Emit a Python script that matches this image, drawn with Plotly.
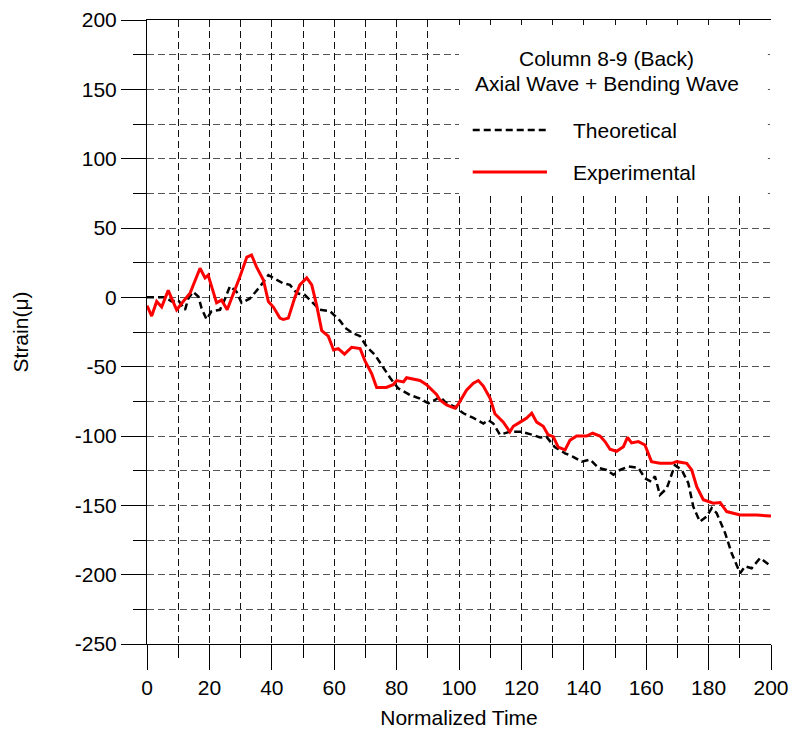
import plotly.graph_objects as go

# ---- data ----
th_t = [0, 5.8, 7.9, 10, 12.2, 13.2, 14.8, 16.5, 17.5, 19.1, 20.7, 23.4, 25, 26.6, 28.7, 30.3, 32.9,
        36.2, 38.9, 41.5, 43.7, 45.8, 48, 50.6, 53.3, 55.4, 58.7, 61.9, 63.5, 66.1, 68.3, 70.4, 73.1,
        75.2, 77.9, 80.5, 84.3, 87.5, 90.2, 92.3, 93.9, 96, 98.7, 101.4, 104.6, 107.8, 109.4, 111,
        113.1, 116.3, 120.1, 123.3, 126, 128, 130.7, 134, 136.6, 139.3, 142, 144.7, 147.3, 149.5,
        151.6, 154.3, 157.5, 159.6, 161.7, 162.8, 164.4, 166.6, 168.2, 169.2, 171.4, 173.5, 175.1,
        177.2, 179.4, 181, 182.6, 185.3, 187.4, 189, 190.1, 191.7, 193.8, 196.5, 198, 200]
th_y = [0, 0, -3, -2, -9, -1, 4, 0.4, -8, -16, -10, -9, -1, 8, 4, -4, -1,
        7.6, 16, 12.5, 10, 9, 3, 1.7, -4, -9, -10, -17, -22, -26, -28, -35.6, -41.6,
        -49, -58, -65.6, -70.4, -73, -76.4, -74, -71.7, -76.4, -79, -83.6, -87, -91, -88.5, -91,
        -99, -97, -97, -99, -101, -100.5, -108, -112.5, -115, -118.5, -117, -123, -124.5, -128,
        -124.5, -122, -123, -130.5, -133, -129, -142.5, -137.7, -128, -121, -124.5, -134, -151,
        -161.8, -158, -152, -155.7, -170, -184.6, -193, -199, -194, -195.4, -188, -190.6, -194]

exp_t = [0, 1.5, 3.1, 4.7, 6.8, 9.5, 11.6, 13.8, 17, 18.6, 19.6, 22.3, 23.9, 25.7, 29.8, 32, 33.5,
         35.1, 37.3, 38.9, 40.5, 42.6, 43.7, 45.3, 47.4, 49, 51.2, 52.8, 54.4, 56, 58.1, 59.8, 61.3,
         63.3, 65.6, 68.3, 69.9, 72, 73.6, 76.7, 78.9, 80, 82.2, 83.2, 87.5, 89.6, 92.8, 93.9, 96,
         98.7, 99.8, 102.4, 104.6, 106.2, 107.8, 110, 111.5, 114.2, 116.3, 117.4, 119.6, 121.7, 123.3,
         124.9, 127, 128.5, 130.2, 131.8, 134, 135.6, 137.7, 140.9, 142.8, 145.2, 146.8, 148.4, 150.5,
         152.7, 154, 155.3, 157.5, 159.6, 161.7, 164.4, 168.2, 169.8, 173, 174.6, 176.2, 178.3, 181.5,
         183.7, 185.8, 190.1, 195.4, 200]
exp_y = [-6, -13.5, -3, -7, 5, -9, -3, 3, 21, 14, 16, -4, -2, -9, 15, 29, 30.5,
         22, 12.5, -3, -7, -15, -16, -15, 0, 9, 14, 9, -6, -24, -28, -38, -37,
         -41, -36, -37, -46, -55, -65, -65, -63, -60, -61, -58, -60, -63, -70, -74, -77.6,
         -80, -77, -67, -62, -60, -64, -73, -84, -90, -97, -93, -90, -87, -83.6,
         -90, -93, -99, -100.5, -108, -110, -103, -100, -100, -98, -100, -104, -109.6, -111,
         -107.7, -101, -105, -104, -106.5, -118.5, -119.7, -119.7, -118.5, -119.7, -124.5, -136.5, -146, -148.5,
         -148, -154.5, -157, -157, -157.7]

y_ticks = [200, 150, 100, 50, 0, -50, -100, -150, -200, -250]
y_ticktext = ["200", "150", "100", "50", "0", "-50", "-100", "-150", "-200", "-250"]

legend_title = ["Column 8-9 (Back)", "Axial Wave + Bending Wave"]
series_names = ["Theoretical", "Experimental"]

FONT = "Liberation Sans, Arial, sans-serif"
FS = 21

fig = go.Figure()
fig.add_trace(go.Scatter(x=th_t, y=th_y, mode="lines", name=series_names[0],
                         line=dict(color="black", width=2.5, dash="7px,4px"), showlegend=False))
fig.add_trace(go.Scatter(x=exp_t, y=exp_y, mode="lines", name=series_names[1],
                         line=dict(color="#ff0000", width=3), showlegend=False))

grid_dash = "7px,4px"
fig.update_xaxes(range=[0, 200], tickmode="linear", tick0=0, dtick=20,
                 ticks="outside", ticklen=25, tickwidth=1, tickcolor="black",
                 showline=True, linecolor="black", linewidth=1, mirror=True,
                 showgrid=True, gridcolor="#111", griddash=grid_dash, gridwidth=1,
                 zeroline=False,
                 minor=dict(dtick=10, ticks="outside", ticklen=13, tickcolor="black",
                            showgrid=True, gridcolor="#111", griddash=grid_dash),
                 tickfont=dict(family=FONT, size=FS, color="black"),
                 title=dict(text="Normalized Time", font=dict(family=FONT, size=FS, color="black"),
                            standoff=12))
fig.update_yaxes(range=[-250, 200], tickmode="array", tickvals=y_ticks, ticktext=y_ticktext,
                 ticks="outside", ticklen=25, tickwidth=1, tickcolor="black",
                 showline=True, linecolor="black", linewidth=1,
                 showgrid=True, gridcolor="#555", griddash=grid_dash, gridwidth=1,
                 zeroline=False,
                 minor=dict(tickmode="linear", tick0=0, dtick=25, ticks="outside", ticklen=13,
                            tickcolor="black", showgrid=True, gridcolor="#555", griddash=grid_dash),
                 tickfont=dict(family=FONT, size=FS, color="black"),
                 title=dict(text="Strain(μ)", font=dict(family=FONT, size=FS, color="black"),
                            standoff=40))

# legend box (manual)
shapes = [
    dict(type="rect", xref="paper", yref="paper", x0=0.5, x1=0.995, y0=0.721, y1=0.992,
         fillcolor="white", line=dict(width=0), layer="above"),
    dict(type="line", xref="paper", yref="paper", x0=0.522, x1=0.641, y0=0.8237, y1=0.8237,
         line=dict(color="black", width=2.5, dash="7px,4px"), layer="above"),
    dict(type="line", xref="paper", yref="paper", x0=0.522, x1=0.641, y0=0.7564, y1=0.7564,
         line=dict(color="#ff0000", width=3), layer="above"),
]
annotations = [
    dict(text=legend_title[0], xref="paper", yref="paper", x=0.737, y=0.939, showarrow=False,
         xanchor="center", yanchor="middle", font=dict(family=FONT, size=FS, color="black")),
    dict(text=legend_title[1], xref="paper", yref="paper", x=0.737, y=0.899, showarrow=False,
         xanchor="center", yanchor="middle", font=dict(family=FONT, size=FS, color="black")),
    dict(text=series_names[0], xref="paper", yref="paper", x=0.679, y=0.8237, showarrow=False,
         xanchor="left", yanchor="middle", font=dict(family=FONT, size=FS, color="black")),
    dict(text=series_names[1], xref="paper", yref="paper", x=0.679, y=0.7564, showarrow=False,
         xanchor="left", yanchor="middle", font=dict(family=FONT, size=FS, color="black")),
]

fig.update_layout(width=792, height=731, margin=dict(l=147, r=21, t=20, b=87, autoexpand=False),
                  paper_bgcolor="white", plot_bgcolor="white",
                  shapes=shapes, annotations=annotations, showlegend=False)

fig.write_html("out.html")
